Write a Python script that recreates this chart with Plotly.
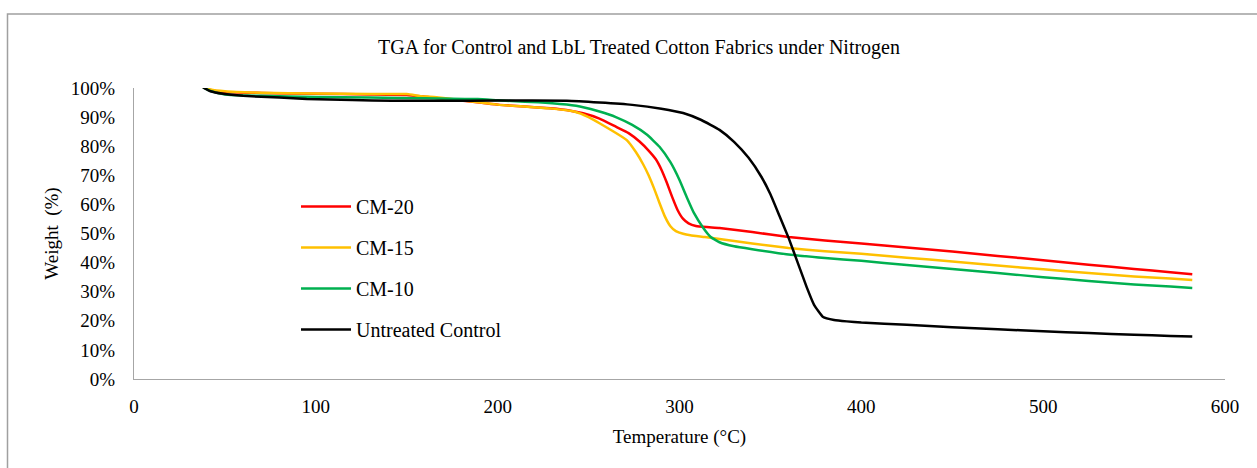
import plotly.graph_objects as go

# ---- data ----
t_cm20 = [38, 42, 50, 70, 100, 130, 150, 160, 175, 190, 201, 215, 229, 240, 247, 256, 265, 272, 278, 283, 287, 290, 293, 296, 299, 302, 305, 309, 315, 322, 340, 360, 380, 400, 425, 450, 475, 500, 525, 550, 570, 582]
w_cm20 = [100.2, 99.3, 98.6, 98.3, 98.0, 97.8, 97.6, 97.0, 96.0, 95.0, 94.2, 93.6, 93.0, 92.2, 91.3, 89.5, 86.7, 84.5, 81.6, 78.5, 75.5, 72.0, 67.5, 62.5, 58.0, 55.0, 53.5, 52.6, 52.2, 51.9, 50.5, 48.8, 47.6, 46.6, 45.2, 43.8, 42.3, 40.8, 39.3, 37.8, 36.7, 36.0]

t_cm15 = [38, 42, 50, 70, 100, 130, 150, 158, 165, 180, 201, 215, 229, 242, 250, 256, 263, 271, 276, 280, 283, 286, 289, 292, 295, 298, 302, 306, 314, 322, 340, 360, 380, 400, 425, 450, 475, 500, 525, 550, 570, 582]
w_cm15 = [100.3, 99.5, 98.9, 98.4, 98.1, 97.9, 97.9, 97.2, 96.9, 95.8, 94.2, 93.6, 93.0, 91.9, 90.0, 87.9, 85.3, 82.1, 78.0, 73.8, 70.0, 65.5, 60.5, 55.8, 52.5, 50.8, 49.9, 49.4, 48.8, 48.1, 46.6, 45.0, 43.9, 43.0, 41.7, 40.4, 39.0, 37.7, 36.4, 35.2, 34.5, 34.0]

t_cm10 = [38, 42, 50, 70, 100, 130, 160, 175, 189, 200, 215, 230, 238, 247, 256, 265, 274, 282, 289, 295, 300, 304, 308, 313, 317, 322, 330, 340, 360, 380, 400, 425, 450, 475, 500, 525, 550, 570, 582]
w_cm10 = [100.2, 99.0, 97.8, 97.3, 96.9, 96.7, 96.5, 96.3, 96.2, 95.8, 95.3, 94.8, 94.3, 93.4, 91.9, 90.0, 87.3, 84.0, 79.8, 74.5, 68.4, 62.5, 57.0, 52.0, 48.9, 47.0, 45.6, 44.6, 42.8, 41.6, 40.6, 39.2, 37.8, 36.4, 35.0, 33.7, 32.5, 31.8, 31.3]

t_ctrl = [38, 42, 49, 60, 80, 95, 120, 142, 170, 200, 238, 256, 274, 290, 302, 312, 322, 330, 338, 345, 350, 355, 360, 365, 370, 374, 379, 385, 392, 400, 425, 450, 475, 500, 525, 550, 570, 582]
w_ctrl = [100.2, 98.9, 98.0, 97.3, 96.7, 96.2, 95.9, 95.6, 95.6, 95.7, 95.6, 95.0, 94.2, 92.9, 91.4, 89.0, 85.6, 81.5, 76.0, 69.5, 63.5, 56.0, 48.5, 40.0, 31.5, 25.5, 21.3, 20.3, 19.8, 19.4, 18.6, 17.8, 17.1, 16.4, 15.8, 15.2, 14.8, 14.6]

series = [
    ("CM-20", t_cm20, w_cm20, "#FF0000"),
    ("CM-15", t_cm15, w_cm15, "#FFC000"),
    ("CM-10", t_cm10, w_cm10, "#00B050"),
    ("Untreated Control", t_ctrl, w_ctrl, "#000000"),
]

x_ticks = [0, 100, 200, 300, 400, 500, 600]
y_ticks = [0, 10, 20, 30, 40, 50, 60, 70, 80, 90, 100]
y_tick_text = ["0%", "10%", "20%", "30%", "40%", "50%", "60%", "70%", "80%", "90%", "100%"]

FONT = "Liberation Serif"

fig = go.Figure()
for name, t, w, c in series:
    fig.add_trace(go.Scatter(
        x=t, y=w, name=name, mode="lines", legendgroup=name,
        line=dict(color=c, width=2.5, shape="spline", smoothing=0.4),
    ))

fig.update_layout(
    width=1257, height=468,
    margin=dict(l=134, r=32, t=88, b=89),
    paper_bgcolor="white", plot_bgcolor="white",
    font=dict(family=FONT, color="#000000", size=18),
    title=dict(text="TGA for Control and LbL Treated Cotton Fabrics under Nitrogen",
               x=639 / 1257, xref="container", xanchor="center",
               y=1 - 47 / 468, yref="container", yanchor="middle",
               font=dict(family=FONT, size=20, color="#000000")),
    showlegend=True,
    legend=dict(x=(296 - 134) / 1091, y=(379 - 187) / 291, xanchor="left", yanchor="top",
                bgcolor="rgba(0,0,0,0)", font=dict(family=FONT, size=20, color="#000000"),
                tracegroupgap=12, traceorder="grouped", itemwidth=50),
    xaxis=dict(range=[0, 600], tickvals=x_ticks, showgrid=False, zeroline=False,
               showline=True, linecolor="#A6A6A6", linewidth=1.3, ticks="",
               ticklabelstandoff=10, tickfont=dict(family=FONT, size=19, color="#000000"),
               title=dict(text="Temperature (°C)", font=dict(family=FONT, size=19, color="#000000"),
                          standoff=13)),
    yaxis=dict(range=[0, 100], tickvals=y_ticks, ticktext=y_tick_text, showgrid=False,
               zeroline=False, showline=True, linecolor="#A6A6A6", linewidth=1.3,
               ticks="", ticklabelstandoff=14, tickfont=dict(family=FONT, size=19, color="#000000"),
               title=dict(text="Weight  (%)", font=dict(family=FONT, size=19, color="#000000"),
                          standoff=7)),
    shapes=[dict(type="rect", xref="paper", yref="paper",
                 x0=(7.5 - 134) / 1091, x1=(1262 - 134) / 1091,
                 y0=(379 - 475) / 291, y1=(379 - 14) / 291,
                 line=dict(color="#A0A0A0", width=1.5), fillcolor="rgba(0,0,0,0)",
                 layer="below")],
)

fig.write_html("out.html")
